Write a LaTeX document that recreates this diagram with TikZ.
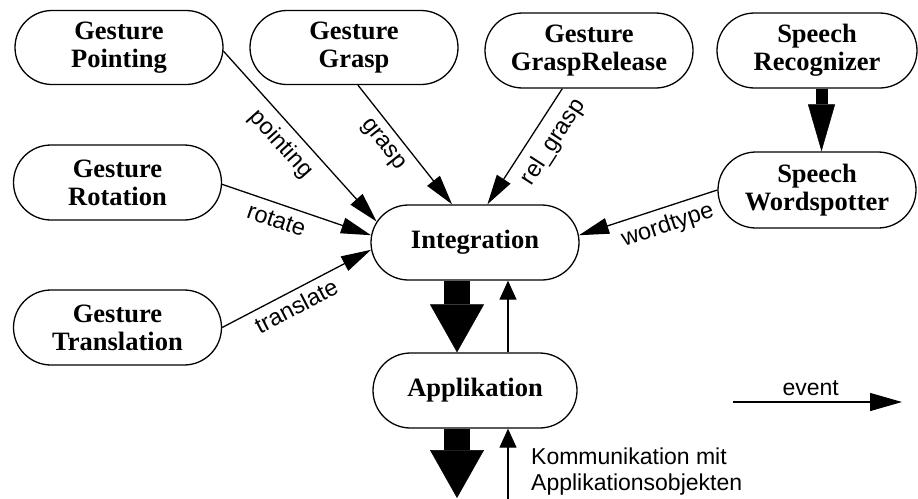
\documentclass[tikz,border=0pt]{standalone}
\usepackage{fontspec}
\setmainfont{Liberation Serif}
\setsansfont{Liberation Sans}
\usetikzlibrary{arrows.meta,shapes.misc}
\begin{document}
\tikzset{
  box/.style={rounded rectangle, draw, line width=1.3pt, minimum width=208pt,
    minimum height=74pt, inner sep=0pt, align=center,
    font=\fontsize{26.5}{28}\selectfont\bfseries},
  conn/.style={line width=1.3pt, -{Triangle[length=30pt,width=16pt]}},
  vconn/.style={line width=1.3pt, -{Triangle[length=19pt,width=17pt]}},
  evconn/.style={line width=1.3pt, -{Triangle[length=32pt,width=18pt]}},
  bigarrow/.style={line width=26pt, -{Triangle[length=48pt,width=54pt,line width=0.5pt]}},
  midarrow/.style={line width=12pt, -{Triangle[length=47pt,width=27pt,line width=0.5pt]}},
  lab/.style={font=\fontsize{23.5}{25}\selectfont\sffamily, sloped, inner sep=2pt},
  plain/.style={font=\fontsize{23}{26}\selectfont\sffamily, inner sep=0pt}
}
\begin{tikzpicture}[x=1pt,y=-1pt]
\useasboundingbox (0,0) rectangle (918,498);
\node[box] (pp) at (119,47.5) {Gesture\\Pointing};
\node[box] (gr) at (354,47.5) {Gesture\\Grasp};
\node[box, minimum height=75pt] (grr) at (589,50.5) {Gesture\\GraspRelease};
\node[box, minimum width=200pt, minimum height=75pt] (sr) at (817,50.5) {Speech\\Recognizer};
\node[box, minimum height=75pt] (rot) at (117.5,182.5) {Gesture\\Rotation};
\node[box, minimum height=75pt] (tr) at (117.5,327.5) {Gesture\\Translation};
\node[box, minimum height=75pt] (int) at (475,242.5) {Integration};
\node[box, minimum width=198pt, minimum height=76pt] (sw) at (817,190) {Speech\\Wordspotter};
\node[box, minimum width=204pt, minimum height=75pt] (app) at (475,390.5) {Applikation};

\draw[conn] (pp.-2) -- (int.168) node[lab, pos=0.47, below=6pt] {pointing};
\draw[conn] (gr.-84) -- (int.121) node[lab, pos=0.41, below=6pt] {grasp};
\draw[conn] (grr.235) -- (int.72) node[lab, pos=0.36, below=8pt] {rel\_grasp};
\draw[conn] (rot.-1) -- (int.176) node[lab, pos=0.40, below=6pt] {rotate};
\draw[conn] (tr.east) -- (int.184) node[lab, pos=0.45, below=4pt] {translate};
\draw[conn] (sw.west) -- (int.4) node[lab, pos=0.4, below=5pt] {wordtype};

\draw[midarrow] ([xshift=4.5]sr.south) -- ([xshift=4.5]sw.north);
\draw[bigarrow] ([xshift=-18]int.south) -- ([xshift=-18]app.north);
\draw[vconn] ([xshift=33]app.north) -- ([xshift=33]int.south);
\coordinate (b1) at (457,498);
\coordinate (b2) at (508,500);
\draw[bigarrow] ([xshift=-18]app.south) -- (b1);
\draw[vconn] (b2) -- ([xshift=33]app.south);
\node[plain, anchor=west, align=left] (km) at (531,472) {Kommunikation mit\\Applikationsobjekten};

\coordinate (e1) at (733,402);
\coordinate (e2) at (902,402);
\draw[evconn] (e1) -- (e2) node[plain, pos=0.46, above=6pt] {event};
\end{tikzpicture}
\end{document}
